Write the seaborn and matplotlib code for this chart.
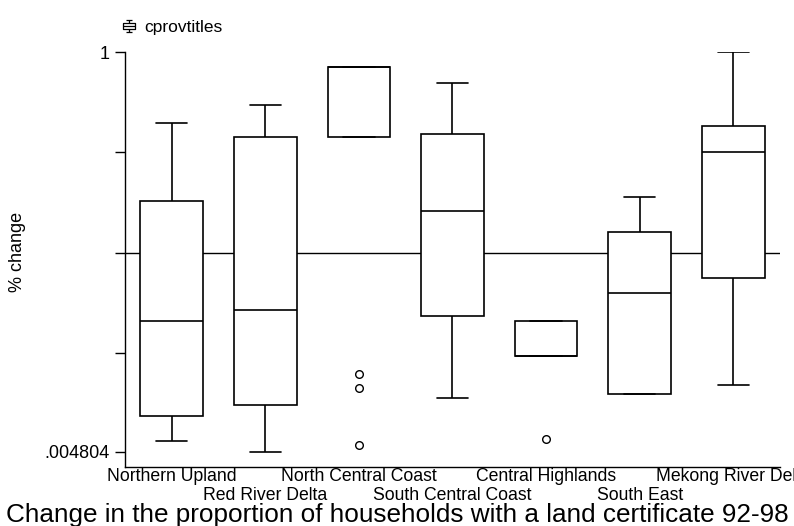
import numpy as np
import pandas as pd
import matplotlib
matplotlib.use("Agg")
import matplotlib.pyplot as plt
from matplotlib.path import Path
from matplotlib.lines import Line2D
import seaborn as sns

# ---- data ----
regions = ["Northern Upland", "Red River Delta", "North Central Coast",
           "South Central Coast", "Central Highlands", "South East",
           "Mekong River Delta"]
# five-number summaries (lower whisker, Q1, median, Q3, upper whisker)
whisker_low = [0.031, 0.004804, 0.788, 0.139, 0.243, 0.149, 0.170]
q1 = [0.094, 0.121, 0.788, 0.343, 0.243, 0.149, 0.437]
median = [0.330, 0.358, 0.963, 0.605, 0.243, 0.400, 0.752]
q3 = [0.628, 0.788, 0.963, 0.797, 0.331, 0.552, 0.816]
whisker_high = [0.824, 0.869, 0.963, 0.922, 0.331, 0.640, 1.0]
outlier_region = ["North Central Coast", "North Central Coast",
                  "North Central Coast", "Central Highlands"]
outlier_value = [0.198, 0.164, 0.021, 0.036]
ytick_vals = [0.004804, 0.25, 0.5, 0.75, 1.0]
ytick_labels = [".004804", "", "", "", "1"]
title = "Change in the proportion of households with a land certificate 92-98"

rows = []
for r, a, b, c, d, e in zip(regions, whisker_low, q1, median, q3, whisker_high):
    for v in (a, b, c, d, e):
        rows.append({"region": r, "change": v})
df = pd.DataFrame(rows)
out_df = pd.DataFrame({"region": outlier_region, "change": outlier_value})

sns.set_theme(style="white")
plt.rcParams["font.family"] = ["Liberation Sans", "DejaVu Sans"]
plt.rcParams["text.color"] = "black"
plt.rcParams["axes.labelcolor"] = "black"
plt.rcParams["xtick.color"] = "black"
plt.rcParams["ytick.color"] = "black"

fig = plt.figure(figsize=(7.94, 5.26), dpi=100)
ax = fig.add_axes([125 / 794, 1 - 467 / 526, 655 / 794, 415 / 526])

ax.axhline(0.5, color="black", lw=1.0, zorder=0.5)

sns.boxplot(data=df, x="region", y="change", order=regions, whis=(0, 100),
            showfliers=False, width=0.67, color="white", linecolor="black",
            linewidth=1.2, fill=True, ax=ax)
sns.stripplot(data=out_df, x="region", y="change", order=regions,
              jitter=False, color="white", edgecolor="black", linewidth=1.0,
              size=5.5, ax=ax)

ax.set_xlim(-0.5, 6.5)
ax.set_ylim(-0.0335, 1.0)
for s in ("top", "right"):
    ax.spines[s].set_visible(False)
for s in ("left", "bottom"):
    ax.spines[s].set_color("black")
    ax.spines[s].set_linewidth(1.0)

ax.set_yticks(ytick_vals)
ax.set_yticklabels(ytick_labels)
ax.tick_params(axis="y", which="major", length=7, width=1.0, color="black",
               pad=4, labelsize=13, left=True, labelcolor="black")

major_idx = [0, 2, 4, 6]
minor_idx = [1, 3, 5]
ax.set_xticks(major_idx)
ax.set_xticklabels([regions[i] for i in major_idx])
ax.set_xticks(minor_idx, minor=True)
ax.set_xticklabels([regions[i] for i in minor_idx], minor=True)
ax.tick_params(axis="x", which="major", length=0, pad=0.5, labelsize=12.7,
               labelcolor="black")
ax.tick_params(axis="x", which="minor", length=0, pad=14.5, labelsize=12.7,
               labelcolor="black")

ax.set_xlabel("")
ax.set_ylabel("% change", fontsize=13, color="black")
ax.yaxis.set_label_coords(-0.151, 0.518)

# legend with box-plot glyph
verts = [(-0.25, 0.5), (0.25, 0.5), (0, 0.5), (0, 0.25),
         (-0.5, 0.25), (0.5, 0.25), (0.5, -0.25), (-0.5, -0.25), (-0.5, 0.25),
         (-0.5, 0), (0.5, 0),
         (0, -0.25), (0, -0.5), (-0.25, -0.5), (0.25, -0.5)]
codes = [Path.MOVETO, Path.LINETO, Path.MOVETO, Path.LINETO,
         Path.MOVETO, Path.LINETO, Path.LINETO, Path.LINETO, Path.LINETO,
         Path.MOVETO, Path.LINETO,
         Path.MOVETO, Path.LINETO, Path.MOVETO, Path.LINETO]
glyph = Path(verts, codes)
handle = Line2D([], [], marker=glyph, linestyle="None", markersize=9,
                markerfacecolor="none", markeredgecolor="black",
                markeredgewidth=0.9, label="cprovtitles")
fig.legend(handles=[handle], loc="center left",
           bbox_to_anchor=(119 / 794, 1 - 27 / 526), frameon=False,
           fontsize=12.5, handlelength=1.1, handletextpad=0.35,
           borderpad=0, borderaxespad=0, labelcolor="black")

fig.text(0.5, 1 - 522 / 526, title, ha="center", va="baseline",
         fontsize=18.8, color="black")

fig.savefig("out.png", dpi=100, facecolor="white")
